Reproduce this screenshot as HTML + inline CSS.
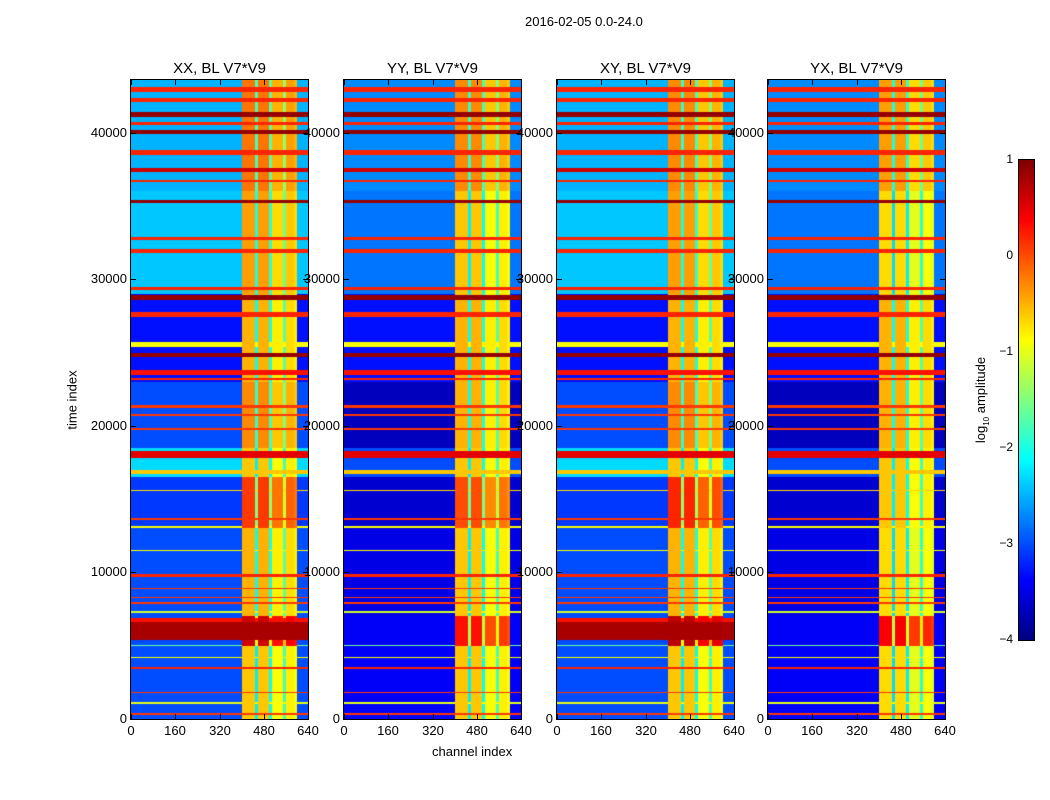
<!DOCTYPE html>
<html><head><meta charset="utf-8">
<style>
body{margin:0;background:#fff;width:1050px;height:800px;position:relative;overflow:hidden;font-family:"Liberation Sans",sans-serif;}
.t{position:absolute;font-size:13px;color:#000;white-space:nowrap;}
canvas{position:absolute;}
.tk{position:absolute;background:#000;}
</style></head>
<body>
<div class="t" style="left:525px;top:14px;">2016-02-05 0.0-24.0</div>
<div class="t" style="left:72px;top:400px;transform:translate(-50%,-50%) rotate(-90deg);">time index</div>
<div class="t" style="left:432px;top:744px;">channel index</div>
<div class="t" style="left:982px;top:400px;transform:translate(-50%,-50%) rotate(-90deg);">log<sub style="font-size:8px">10</sub> amplitude</div>
<div id="root"></div>
<script>
// ---- data ----
const panelTitles = ["XX, BL V7*V9","YY, BL V7*V9","XY, BL V7*V9","YX, BL V7*V9"];
const timeTicks = [0,10000,20000,30000,40000];
const chanTicks = [0,160,320,480,640];
const cbTicks = [1,0,-1,-2,-3,-4];
const segStart = [0,5000,7000,13000,16500,18500,23000,29000,36000];
const segEnd   = [5000,7000,13000,16500,18500,23000,29000,36000,43600];
const bgXX = [-3.0,-3.0,-3.0,-3.1,-2.3,-3.0,-3.3,-2.4,-2.5];
const bgYY = [-3.4,-3.4,-3.5,-3.6,-3.0,-3.7,-3.3,-2.8,-2.7];
const bgXY = [-3.0,-3.0,-3.0,-3.1,-2.3,-3.0,-3.3,-2.4,-2.5];
const bgYX = [-3.4,-3.4,-3.5,-3.6,-3.0,-3.7,-3.3,-2.8,-2.7];
const bandXX = [-0.6,0.6,-0.5,0.1,-0.6,-0.3,-0.5,-0.4,-0.2];
const bandYY = [-0.6,0.3,-0.6,0.0,-0.6,-0.5,-0.5,-0.6,-0.3];
const bandXY = [-0.6,0.7,-0.5,0.2,-0.6,-0.3,-0.5,-0.4,-0.3];
const bandYX = [-0.7,0.4,-0.7,-0.6,-0.6,-0.5,-0.5,-0.7,-0.4];
// channel band offsets per 10-channel bin (null = outside band)
const chanOffset = [null,null,null,null,null,null,null,null,null,null,null,null,null,null,null,null,null,null,null,null,
 null,null,null,null,null,null,null,null,null,null,null,null,null,null,null,null,null,null,null,null,
 0,0,0,0,0,-1.6,0,0,0,0,-1.5,-0.3,-0.3,-0.3,-0.3,-1.2,-0.2,-0.2,-0.2,-0.3,null,null,null,null];
const rowStart = [42800,42100,41100,40500,39900,38500,37300,36650,35200,32700,31800,29300,28600,27400,25400,24700,23100,23500,21250,20650,19700,17800,16700,15550,13550,13050,11450,9700,8850,8250,7850,7250,6300,5400,4950,4150,3400,1750,1050,250];
const rowEnd   = [43100,42400,41400,40750,40200,38800,37600,36800,35400,32900,32100,29500,28900,27800,25700,25000,23300,23800,21400,20800,19850,18300,17000,15650,13700,13200,11550,9900,8950,8350,7950,7400,6900,6600,5050,4250,3550,1850,1150,400];
const rowLevel = [0.2,0.2,0.9,0.2,0.9,0.2,0.6,0.2,0.9,0.2,0.2,0.2,0.9,0.2,-0.9,0.9,0.2,0.3,0.1,0.1,0.1,0.5,-0.6,-0.7,0.1,-0.9,-0.9,0.2,0.1,0.1,0.1,-1.1,0.3,0.8,-1.6,-0.9,0.2,0.1,-1.0,0.1];
const rowMask  = ["1111","1111","1111","1111","1111","1111","1111","1111","1111","1111","1111","1111","1111","1111","1111","1111","1111","1111","1111","1111","1111","1111","1111","1111","1111","1111","1111","1111","1111","1111","1111","1111","1010","1010","1111","1111","1111","1111","1111","1111"];
// ---- layout ----
const lefts=[131,344,557,768], W=177, TOP=80, H=639, TMAX=43600, CMAX=640;
const bgs=[bgXX,bgYY,bgXY,bgYX], bands=[bandXX,bandYY,bandXY,bandYX];
const yS=t=>TOP+H*(1-t/TMAX);
function jet(v){let x=(v+4)/5;x=Math.max(0,Math.min(1,x));
 const c=u=>Math.max(0,Math.min(1,u));
 return [c(1.5-Math.abs(4*x-3)),c(1.5-Math.abs(4*x-2)),c(1.5-Math.abs(4*x-1))].map(q=>Math.round(q*255));}
function val(p,t,ch){
 let s=0;for(let i=0;i<segStart.length;i++)if(t>=segStart[i]&&t<segEnd[i])s=i;
 let v=bgs[p][s];const bin=Math.min(63,Math.floor(ch/10));const off=chanOffset[bin];
 let inBand=off!==null; let bv=inBand?bands[p][s]+off:null;
 if(inBand)v=bv;
 for(let i=0;i<rowStart.length;i++)if(t>=rowStart[i]&&t<rowEnd[i]&&rowMask[i][p]==="1"){
   v=inBand?Math.max(bv,rowLevel[i]):rowLevel[i];}
 return v;}
const root=document.getElementById('root');
function txt(x,y,s,name,align){const d=document.createElement('div');d.className='t';d.textContent=s;
 
 
 d.style.top=(y-8)+'px';
 if(align==='r'){d.style.right=(1050-x)+'px';}else if(align==='c'){d.style.left=x+'px';d.style.transform='translateX(-50%)';}else d.style.left=x+'px';
 root.appendChild(d);return d;}
function tick(x,y,w,h,name){const d=document.createElement('div');d.className='tk';
 
 
 d.style.left=x+'px';d.style.top=y+'px';d.style.width=w+'px';d.style.height=h+'px';root.appendChild(d);}
for(let p=0;p<4;p++){
 const cv=document.createElement('canvas');cv.width=W;cv.height=H;
 
 
 cv.style.left=lefts[p]+'px';cv.style.top=TOP+'px';cv.style.outline='1px solid #000';
 root.appendChild(cv);
 const ctx=cv.getContext('2d');const img=ctx.createImageData(W,H);
 for(let y=0;y<H;y++){const t=TMAX*(1-(y+0.5)/H);
  for(let x=0;x<W;x++){const ch=(x+0.5)/W*CMAX;const c=jet(val(p,t,ch));const k=(y*W+x)*4;
   img.data[k]=c[0];img.data[k+1]=c[1];img.data[k+2]=c[2];img.data[k+3]=255;}}
 ctx.putImageData(img,0,0);
 const tt=txt(lefts[p]+W/2,TOP-12,panelTitles[p],'panel-title','c');tt.style.fontSize='15px';
 timeTicks.forEach(v=>{txt(lefts[p]-4,yS(v),String(v),'y-tick-label','r');
   tick(lefts[p],Math.round(yS(v)),5,1,'y-tick');tick(lefts[p]+W-5,Math.round(yS(v)),5,1,'y-tick');});
 chanTicks.forEach(v=>{const x=Math.round(lefts[p]+v/CMAX*W);txt(x,TOP+H+12,String(v),'x-tick-label','c');
   tick(x,TOP+H-5,1,5,'x-tick');tick(x,TOP,1,5,'x-tick');});
}
// colorbar
const cb=document.createElement('canvas');cb.width=15;cb.height=480;


cb.style.left='1019px';cb.style.top='160px';cb.style.outline='1px solid #000';root.appendChild(cb);
const cx=cb.getContext('2d');
for(let y=0;y<480;y++){const c=jet(1-5*(y+0.5)/480);cx.fillStyle=`rgb(${c})`;cx.fillRect(0,y,15,1);}
cbTicks.forEach(v=>{txt(1013,160+480*(1-v)/5,String(v).replace('-','\u2212'),'colorbar-tick-label','r').style.fontSize='12px';});
</script>
</body></html>
